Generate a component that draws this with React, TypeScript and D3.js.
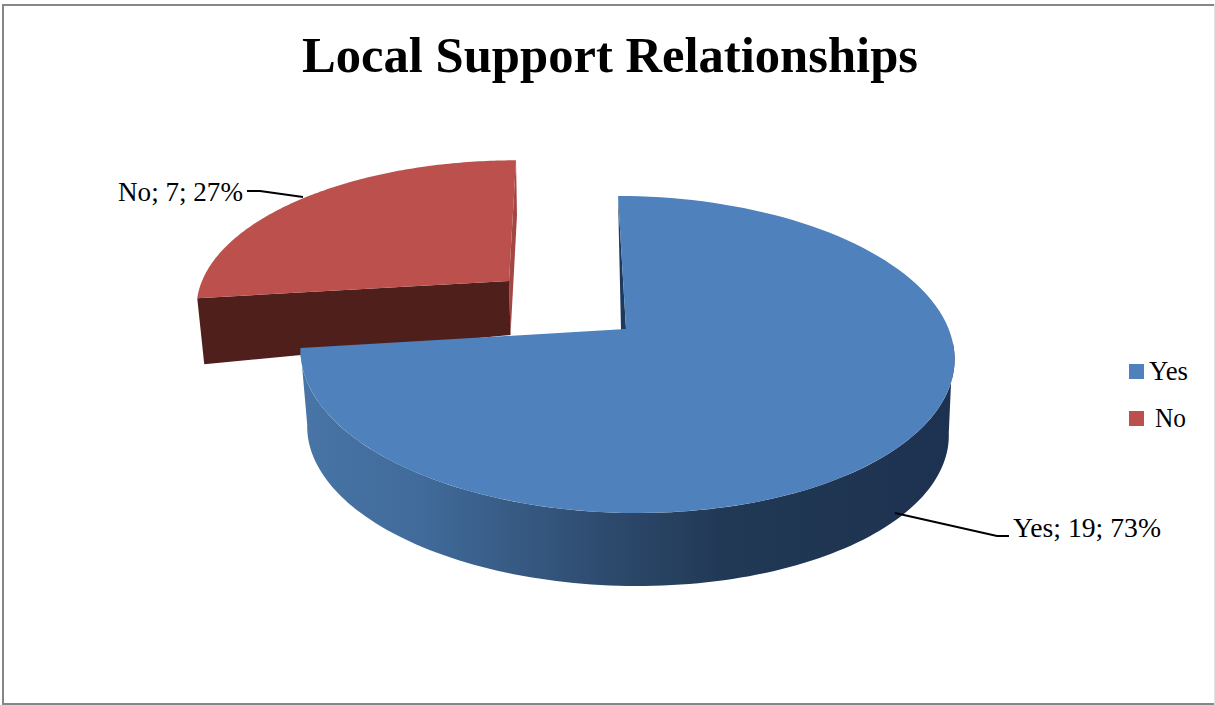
import React from "react";
import * as d3 from "d3";

const categories = ["Yes", "No"];
const counts = [19, 7];
const percents = ["73%", "27%"];
const chartTitle = "Local Support Relationships";
const topColors = ["#4f81bd", "#bb504c"];
const W = 1215, H = 705;
const FONT = "'Liberation Serif', serif";

type Disc = { ax: number; ay: number; A: number; B: number; k: number; shear: number };
const project = (d: Disc, t: number): [number, number] => {
  const u = Math.sin(t), v = -Math.cos(t), w = 1 - d.k * v;
  const dy = (d.B * v) / w;
  return [d.ax + (d.A * u) / w + d.shear * dy, d.ay + dy];
};
const sample = (a: number, b: number, n = 120) => d3.range(n + 1).map((i) => a + ((b - a) * i) / n);
const line = d3.line<[number, number]>();

const blueTop: Disc = { ax: 626, ay: 329, A: 322.7, B: 154.4, k: 0.161, shear: 0.06 };
const blueLow: Disc = { ax: 626.5, ay: 406, A: 316.5, B: 151, k: 0.161, shear: 0.06 };
const redTop: Disc = { ax: 509, ay: 281, A: 307, B: 140, k: 0.16, shear: -0.058 };

export default function App() {
  React.useEffect(() => { document.body.style.margin = "0"; }, []);
  const arcs = d3.pie<number>().sort(null)(counts);
  const yes = arcs[0], no = arcs[1];
  const rad = Math.PI / 180;

  const blueFace = line([[blueTop.ax, blueTop.ay], ...sample(yes.startAngle, yes.endAngle).map((t) => project(blueTop, t))])! + "Z";
  const topRim = sample(95 * rad, yes.endAngle).map((t) => project(blueTop, t));
  const lowRim = sample(100 * rad, yes.endAngle).map((t) => project(blueLow, t)).reverse();
  const blueWall = line([...topRim, ...lowRim])! + "Z";
  const blueStart = project(blueTop, yes.startAngle);
  const blueInner = line([blueStart, [blueTop.ax - 5, blueTop.ay + 1], [blueTop.ax, blueTop.ay]])! + "Z";

  const redFace = line([[redTop.ax, redTop.ay], ...sample(no.startAngle, no.endAngle).map((t) => project(redTop, t))])! + "Z";
  const redLeft = project(redTop, no.startAngle);
  const redRight = project(redTop, no.endAngle);
  const redFront = line([redLeft, [redTop.ax, redTop.ay], [redTop.ax + 1.5, redTop.ay + 54], [redLeft[0] + 7, redLeft[1] + 66]])! + "Z";
  const redSliver = line([redRight, [redRight[0] + 1, redRight[1] + 55], [redTop.ax + 1.5, redTop.ay + 54], [redTop.ax, redTop.ay]])! + "Z";

  const noLeader: [number, number][] = [[247, 191], [260, 191], [303, 197]];
  const yesLeader: [number, number][] = [[895, 513], [997, 536], [1009, 536]];

  const gradStops: [number, string][] = [
    [0, "#4874a6"], [0.18, "#406b9a"], [0.32, "#385b85"], [0.5, "#2b4769"], [0.65, "#213955"], [1, "#1d3250"],
  ];

  return (
    <svg width={W} height={H} viewBox={`0 0 ${W} ${H}`} style={{ position: "absolute", left: 0, top: 0, display: "block" }}>
      <defs>
        <linearGradient id="wall" gradientUnits="userSpaceOnUse" x1={306} x2={946} y1={0} y2={0}>
          {gradStops.map(([o, c]) => <stop key={o} offset={o} stopColor={c} />)}
        </linearGradient>
      </defs>
      <rect x={0} y={0} width={W} height={H} fill="#fff" />
      <rect x={2} y={4} width={W - 2} height={2} fill="#868686" />
      <rect x={2} y={4} width={2} height={H - 4} fill="#868686" />
      <rect x={2} y={703} width={W - 2} height={2} fill="#868686" />
      <rect x={W - 1} y={4} width={1} height={H - 4} fill="#e2e2e2" />
      <text x={302} y={72} fontFamily={FONT} fontWeight={700} fontSize={51} textLength={616} lengthAdjust="spacingAndGlyphs" fill="#000">{chartTitle}</text>

      <path d={redSliver} fill="#a34744" />
      <path d={redFront} fill="#4f1f1b" />
      <path d={redFace} fill={topColors[1]} />

      <path d={blueWall} fill="url(#wall)" />
      <path d={blueInner} fill="#1d3a5e" />
      <path d={blueFace} fill={topColors[0]} />

      <path d={line(noLeader)!} fill="none" stroke="#000" strokeWidth={2} />
      <path d={line(yesLeader)!} fill="none" stroke="#000" strokeWidth={2} />

      <text x={118} y={201} fontFamily={FONT} fontSize={27} textLength={125} lengthAdjust="spacingAndGlyphs" fill="#000">{`${categories[1]}; ${counts[1]}; ${percents[1]}`}</text>
      <text x={1013} y={537} fontFamily={FONT} fontSize={27} textLength={148} lengthAdjust="spacingAndGlyphs" fill="#000">{`${categories[0]}; ${counts[0]}; ${percents[0]}`}</text>

      <rect x={1129} y={364} width={15} height={15} fill={topColors[0]} />
      <text x={1149} y={380} fontFamily={FONT} fontSize={27} textLength={39} lengthAdjust="spacingAndGlyphs" fill="#000">{categories[0]}</text>
      <rect x={1129} y={411} width={15} height={15} fill={topColors[1]} />
      <text x={1155} y={427} fontFamily={FONT} fontSize={27} textLength={31} lengthAdjust="spacingAndGlyphs" fill="#000">{categories[1]}</text>
    </svg>
  );
}
